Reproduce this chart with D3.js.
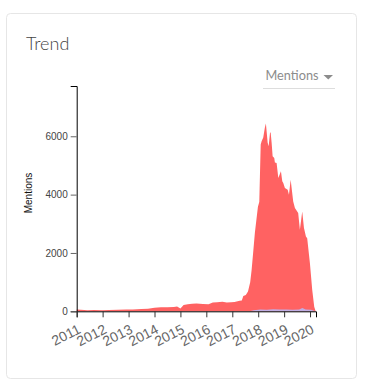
<!DOCTYPE html>
<html>
<head>
<meta charset="utf-8">
<script src="https://cdn.jsdelivr.net/npm/d3@7"></script>
<style>
  html, body { margin: 0; padding: 0; background: #fff; }
  svg { display: block; }
</style>
</head>
<body>
<svg id="chart" width="366" height="391"></svg>
<script>
// ---- data ----
const dates = [
  "2011-01-01","2011-03-01","2011-06-01","2011-09-01","2012-01-01","2012-04-01","2012-08-01","2012-12-01",
  "2013-03-01","2013-07-01","2013-10-01","2014-01-01","2014-04-01","2014-07-01","2014-10-01","2014-11-15",
  "2015-01-01","2015-02-15","2015-04-15","2015-06-15","2015-08-15","2015-11-15","2016-02-01","2016-04-01",
  "2016-06-01","2016-08-15","2016-10-15","2016-12-15","2017-02-01","2017-04-15","2017-05-15","2017-06-05",
  "2017-07-10","2017-08-10","2017-09-10","2017-09-30","2017-10-25","2017-11-15","2017-12-28","2018-01-16",
  "2018-02-05","2018-02-18","2018-03-13","2018-04-05","2018-04-19","2018-04-27","2018-05-14","2018-05-28",
  "2018-06-16","2018-06-25","2018-07-09","2018-07-23","2018-08-15","2018-08-24","2018-09-17","2018-10-11",
  "2018-11-17","2018-12-06","2018-12-20","2019-01-12","2019-02-20","2019-03-10","2019-04-03","2019-05-09",
  "2019-06-02","2019-07-18","2019-08-11","2019-09-13","2019-10-07","2019-11-04","2019-11-22","2019-12-30",
  "2020-02-01","2020-02-29","2020-03-20"
];
const mentions = [
  60,50,40,45,40,45,50,65,
  60,80,90,120,140,135,150,165,
  100,215,240,255,265,250,245,300,
  310,330,300,310,320,360,370,525,
  560,680,1000,1420,2100,2690,3580,3750,
  5714,5827,5954,6298,6436,6230,5780,5656,
  6116,6137,5780,5312,5257,5100,5085,4570,
  4797,4454,4400,4226,4168,3996,4511,3766,
  3539,3367,2793,3422,2862,2563,2500,1660,
  732,160,0
];
// small secondary series (blue/lavender) near the baseline
const otherDates = ["2011-01-01","2017-09-01","2017-11-01","2018-02-01","2018-05-01","2018-08-01","2018-11-01","2019-02-01","2019-05-01","2019-08-01","2019-09-15","2019-11-01","2020-01-15","2020-03-20"];
const otherMentions = [0,0,40,60,55,70,60,65,55,60,110,60,50,0];

const xDomain = ["2011-01-01","2020-03-25"];
const tickYears = [2011,2012,2013,2014,2015,2016,2017,2018,2019,2020];

// ---- drawing ----
const parse = d3.timeParse("%Y-%m-%d");
const svg = d3.select("#chart");

// card
svg.append("rect").attr("x",6.5).attr("y",13.5).attr("width",350).attr("height",365)
  .attr("rx",4).attr("fill","#fff").attr("stroke","#e6e6e6");

svg.append("text").attr("x",26).attr("y",50).text("Trend")
  .attr("font-family","Lato, sans-serif").attr("font-weight",300).attr("font-size",18).attr("fill","#444");

// dropdown
svg.append("text").attr("x",265.5).attr("y",80).text("Mentions")
  .attr("font-family","Lato, sans-serif").attr("font-size",13.5).attr("fill","#8c8c8c")
  .attr("textLength",53).attr("lengthAdjust","spacingAndGlyphs");
svg.append("path").attr("d","M323.5,75 L333,75 L328.25,79.5 Z").attr("fill","#8c8c8c");
svg.append("line").attr("x1",263).attr("x2",335).attr("y1",88.5).attr("y2",88.5).attr("stroke","#ddd");

const mLeft = 76.7, mRight = 316, mTop = 86, mBottom = 311.3;
const x = d3.scaleTime().domain(xDomain.map(parse)).range([mLeft, mRight]);
const y = d3.scaleLinear().domain([0, d3.max(mentions) * 1.2]).range([mBottom, mTop]);

const data = dates.map((d,i) => ({date: parse(d), v: mentions[i]}));
const other = otherDates.map((d,i) => ({date: parse(d), v: otherMentions[i]}));

const area = d3.area().x(d => x(d.date)).y0(y(0)).y1(d => y(d.v));
svg.append("path").datum(data).attr("d", area).attr("fill","#ff6262");
svg.append("path").datum(other).attr("d", area).attr("fill","#b9b6f2").attr("opacity",0.9);

// axes
const yAxis = svg.append("g").attr("transform",`translate(${mLeft},0)`)
  .call(d3.axisLeft(y).ticks(4).tickFormat(d3.format("d")).tickSizeOuter(6));
yAxis.selectAll("text").attr("font-family","'Liberation Sans', Arial, sans-serif").attr("font-size",10).attr("fill","#444");
yAxis.selectAll(".tick line").attr("stroke","#666");

const xAxis = svg.append("g").attr("transform",`translate(0,${mBottom})`)
  .call(d3.axisBottom(x).tickValues(tickYears.map(yv => new Date(yv,0,1))).tickFormat(d3.timeFormat("%Y")).tickSizeOuter(6));
xAxis.selectAll("text")
  .attr("font-family","'Liberation Sans', Arial, sans-serif").attr("font-size",14).attr("fill","#666")
  .attr("text-anchor","end").attr("dx","-0.4em").attr("dy","0.85em")
  .attr("transform","rotate(-27)");
xAxis.selectAll(".tick line").attr("stroke","#333");

svg.append("text").attr("transform",`translate(32,193) rotate(-90)`).attr("text-anchor","middle")
  .attr("font-family","'Liberation Sans', Arial, sans-serif").attr("font-size",10).attr("fill","#111").text("Mentions");
</script>
</body>
</html>
